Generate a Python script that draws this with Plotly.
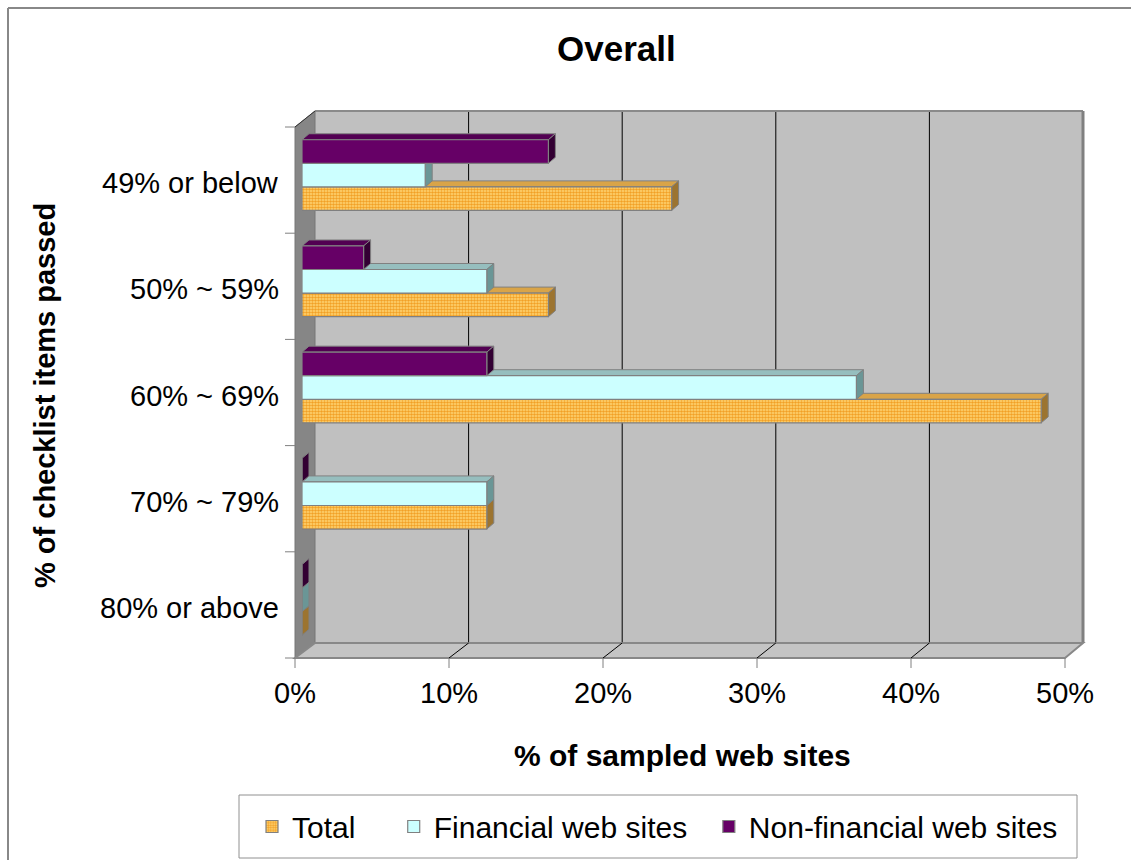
import plotly.graph_objects as go

# ---- data -------------------------------------------------------------
categories = ["49% or below", "50% ~ 59%", "60% ~ 69%", "70% ~ 79%", "80% or above"]  # top to bottom
total = [24, 16, 48, 12, 0]
financial = [8, 12, 36, 12, 0]
non_financial = [16, 4, 12, 0, 0]
series_names = ["Total", "Financial web sites", "Non-financial web sites"]
x_ticks = [0, 10, 20, 30, 40, 50]
x_tick_labels = ["0%", "10%", "20%", "30%", "40%", "50%"]

# ---- page geometry (pixels) --------------------------------------------
W, H = 1131, 860
BACK = (315, 111, 1083, 643)      # back wall: left, top, right, bottom
FRONT = (295, 127, 1065, 658)     # front edge of the box
PLANE = (302, 122, 1072, 653)     # plane holding the bars' front faces
DEPTH = (7, 6)                    # bar depth: right, up
LEGEND_BOX = (239, 795, 1077, 858)
TICK_LEN = 10
X_MAX = 50
BAR_GAP = 0.334

FONT = "Arial, 'Liberation Sans', Helvetica, sans-serif"


def px(x):
    return x / W


def py(y):
    return 1 - y / H


def back_x(v):
    return BACK[0] + v / X_MAX * (BACK[2] - BACK[0])


def front_x(v):
    return FRONT[0] + v / X_MAX * (FRONT[2] - FRONT[0])


n = len(categories)
y_pos = [n - 1 - i for i in range(n)]  # first category drawn at the top

fig = go.Figure()

fills = {
    "Total": dict(color="#FFD36B", pattern=dict(shape=".", fgcolor="#F2A026", bgcolor="#FFD877",
                                                   size=3, solidity=0.55, fillmode="replace")),
    "Financial web sites": dict(color="#CCFFFF"),
    "Non-financial web sites": dict(color="#660066"),
}
faces = {
    "Total": ("#D9A448", "#9C7430"),
    "Financial web sites": ("#96BEBE", "#6A9696"),
    "Non-financial web sites": ("#520052", "#330033"),
}
legend_pad = {"Total": 4, "Financial web sites": 2, "Non-financial web sites": 0}
series_values = [total, financial, non_financial]

for name, vals in zip(series_names, series_values):
    fig.add_trace(go.Bar(
        name=name + "\u00a0" * legend_pad[name], orientation="h", x=vals, y=y_pos,
        hovertemplate=name + ": %{x}%<extra></extra>",
        marker=dict(line=dict(color="#808080", width=1.2), **fills[name]),
    ))

# ---- 3-D faces of the bars (top and end) -------------------------------
ux = X_MAX / (PLANE[2] - PLANE[0])
uy = n / (PLANE[3] - PLANE[1])
dx, dy = DEPTH[0] * ux, DEPTH[1] * uy
group = 1 - BAR_GAP
bw = group / len(series_names)
bar_faces = []
for k, (name, vals) in enumerate(zip(series_names, series_values)):
    top_col, side_col = faces[name]
    for yp, v in zip(y_pos, vals):
        c = yp - group / 2 + (k + 0.5) * bw
        t, b = c + bw / 2, c - bw / 2
        top_path = f"M 0,{t} L {v},{t} L {v + dx},{t + dy} L {dx},{t + dy} Z"
        side_path = f"M {v},{b} L {v},{t} L {v + dx},{t + dy} L {v + dx},{b + dy} Z"
        for path, col in ((top_path, top_col), (side_path, side_col)):
            bar_faces.append(dict(type="path", path=path, xref="x", yref="y", layer="between",
                                  fillcolor=col, line=dict(color="#808080", width=1)))

# ---- walls, floor, grid, ticks, frames ---------------------------------
def poly(pts):
    return "M " + " L ".join(f"{px(x)},{py(y)}" for x, y in pts) + " Z"


def seg(x0, y0, x1, y1, color, width):
    return dict(type="line", xref="paper", yref="paper", layer="below",
                x0=px(x0), y0=py(y0), x1=px(x1), y1=py(y1), line=dict(color=color, width=width))


deco = [
    # outer chart frame (its right and bottom edges lie off the page)
    seg(8, 8, 8, H, "#888888", 2),
    seg(8, 8, W, 8, "#888888", 2),
    # legend frame
    dict(type="rect", xref="paper", yref="paper", x0=px(LEGEND_BOX[0]), y0=py(LEGEND_BOX[3]),
         x1=px(LEGEND_BOX[2]), y1=py(LEGEND_BOX[1]), line=dict(color="#909090", width=1),
         fillcolor="white", layer="below"),
    # back wall
    dict(type="rect", xref="paper", yref="paper", x0=px(BACK[0]), y0=py(BACK[3]),
         x1=px(BACK[2]), y1=py(BACK[1]), fillcolor="#C0C0C0", line=dict(width=0), layer="below"),
]
# wall grid and floor grid
for v in x_ticks[1:-1]:
    deco.append(seg(back_x(v), BACK[1], back_x(v), BACK[3], "#000000", 1))
deco += [
    seg(BACK[0], BACK[1], BACK[2], BACK[1], "#8A8A8A", 2),
    seg(BACK[2], BACK[1], BACK[2], BACK[3], "#808080", 3),
    # left wall
    dict(type="path", xref="paper", yref="paper", layer="below",
         path=poly([(FRONT[0], FRONT[1]), (BACK[0], BACK[1]), (BACK[0], BACK[3]), (FRONT[0], FRONT[3])]),
         fillcolor="#868686", line=dict(color="#777777", width=1)),
    seg(FRONT[0], FRONT[1], BACK[0], BACK[1], "#333333", 1),
    # floor
    dict(type="path", xref="paper", yref="paper", layer="below",
         path=poly([(FRONT[0], FRONT[3]), (BACK[0], BACK[3]), (BACK[2], BACK[3]), (FRONT[2], FRONT[3])]),
         fillcolor="#C4C4C4", line=dict(color="#888888", width=2)),
]
for v in x_ticks[1:-1]:
    deco.append(seg(back_x(v), BACK[3], front_x(v), FRONT[3], "#000000", 1))
# tick marks on the front edges
for v in x_ticks:
    deco.append(seg(front_x(v), FRONT[3], front_x(v), FRONT[3] + TICK_LEN, "#808080", 1))
cat_h = (FRONT[3] - FRONT[1]) / n
for i in range(n + 1):
    yb = FRONT[1] + i * cat_h
    deco.append(seg(FRONT[0] - TICK_LEN, yb, FRONT[0], yb, "#808080", 1))

# ---- text ---------------------------------------------------------------
notes = [
    dict(text="<b>Overall</b>", x=px(616), y=py(48), xref="paper", yref="paper",
         showarrow=False, font=dict(size=35), xanchor="center", yanchor="middle"),
    dict(text="<b>% of sampled web sites</b>", x=px(682), y=py(755), xref="paper", yref="paper",
         showarrow=False, font=dict(size=30), xanchor="center", yanchor="middle"),
    dict(text="<b>% of checklist items passed</b>", x=px(45), y=py(396), xref="paper", yref="paper",
         showarrow=False, font=dict(size=29), textangle=-90, xanchor="center", yanchor="middle"),
]
# value-axis labels sit under the front edge
for v, lab in zip(x_ticks, x_tick_labels):
    notes.append(dict(text=lab, x=px(front_x(v)), y=py(693), xref="paper", yref="paper",
                      showarrow=False, font=dict(size=29), xanchor="center", yanchor="middle"))
# category labels, centred on each category of the front edge
for i, lab in enumerate(categories):
    yc = FRONT[1] + (i + 0.5) * cat_h
    notes.append(dict(text=lab, x=px(FRONT[0] - 14), y=py(yc + 3), xref="paper", yref="paper",
                      showarrow=False, font=dict(size=29), xanchor="right", yanchor="middle"))

fig.update_layout(
    width=W, height=H,
    margin=dict(l=0, r=0, t=0, b=0),
    paper_bgcolor="white", plot_bgcolor="rgba(0,0,0,0)",
    barmode="group", bargap=BAR_GAP, bargroupgap=0,
    font=dict(family=FONT, size=29, color="black"),
    shapes=deco + bar_faces,
    annotations=notes,
    showlegend=True,
    legend=dict(orientation="h", x=px(252), y=py((LEGEND_BOX[1] + LEGEND_BOX[3]) / 2),
                xanchor="left", yanchor="middle", borderwidth=0, bgcolor="rgba(0,0,0,0)",
                font=dict(size=30), traceorder="normal"),
    # plane holding the bars
    xaxis=dict(domain=[px(PLANE[0]), px(PLANE[2])], range=[0, X_MAX], visible=False, fixedrange=True),
    yaxis=dict(domain=[py(PLANE[3]), py(PLANE[1])], range=[-0.5, n - 0.5], visible=False, fixedrange=True),
)

fig.write_html("out.html")
